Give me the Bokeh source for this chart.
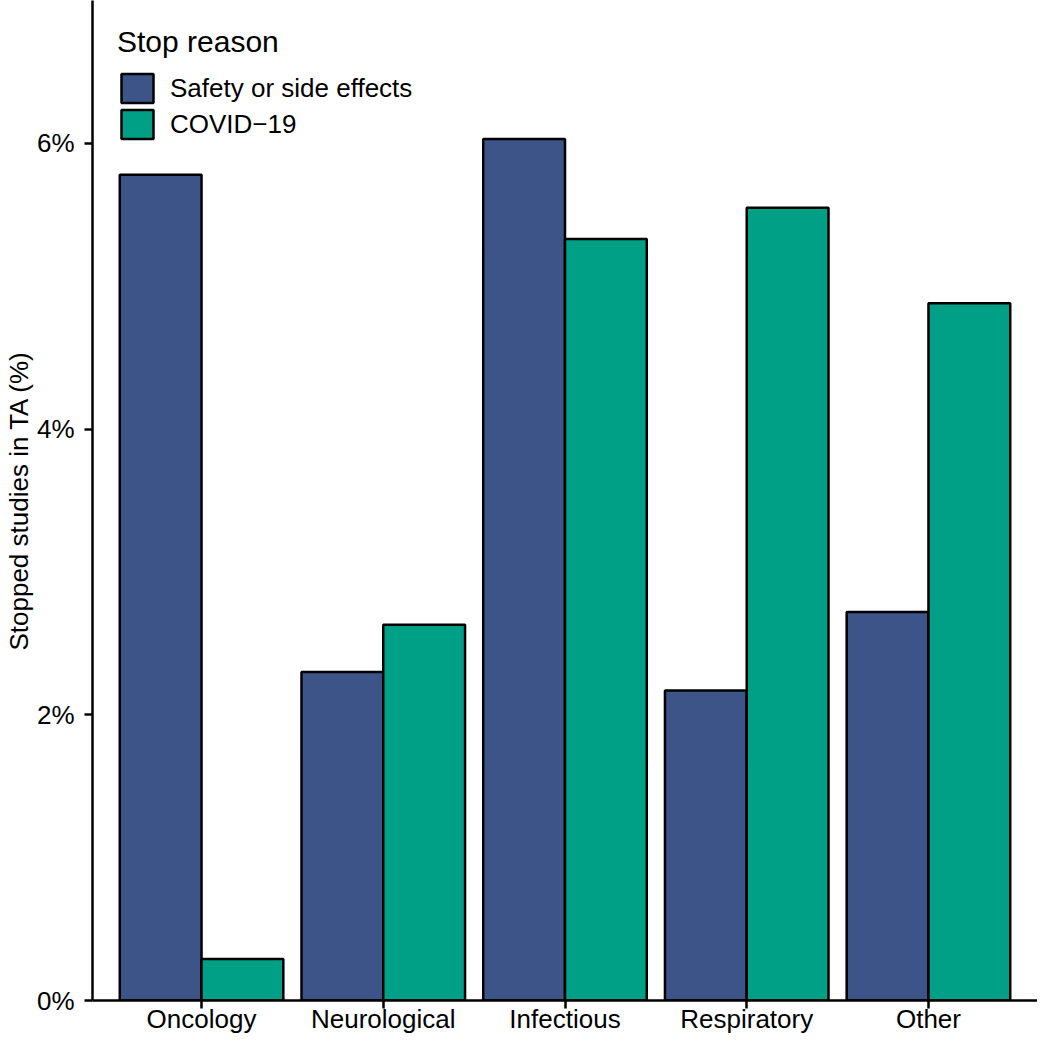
from bokeh.plotting import figure
from bokeh.models import (ColumnDataSource, FactorRange, Range1d, FixedTicker,
                          PrintfTickFormatter, Legend, LegendItem)
from bokeh.transform import dodge
from bokeh.embed import file_html
from bokeh.resources import INLINE

categories = ["Oncology", "Neurological", "Infectious", "Respiratory", "Other"]
safety = [5.78, 2.30, 6.03, 2.17, 2.72]
covid = [0.29, 2.63, 5.33, 5.55, 4.88]
series = ["Safety or side effects", "COVID\u221219"]
colors = ["#3C5488", "#00A087"]
y_ticks = [0, 2, 4, 6]

FONT = "Liberation Sans"

src = ColumnDataSource(dict(cat=categories, safety=safety, covid=covid))

p = figure(
    x_range=FactorRange(*categories, range_padding=0.1, range_padding_units="absolute"),
    y_range=Range1d(0, 7.0),
    width=1037, height=1036,
    output_backend="svg", toolbar_location=None,
    min_border_left=80, min_border_right=0, min_border_top=0, min_border_bottom=0,
)
p.outline_line_color = None
p.xgrid.visible = False
p.ygrid.visible = False
p.background_fill_color = "white"
p.border_fill_color = "white"

r1 = p.vbar(x=dodge("cat", -0.225, range=p.x_range), top="safety", width=0.45,
            source=src, fill_color=colors[0], line_color="black", line_width=2.5)
r2 = p.vbar(x=dodge("cat", 0.225, range=p.x_range), top="covid", width=0.45,
            source=src, fill_color=colors[1], line_color="black", line_width=2.5)

for ax in (p.xaxis[0], p.yaxis[0]):
    ax.axis_line_color = "black"
    ax.axis_line_width = 2.5
    ax.major_tick_line_color = "black"
    ax.major_tick_line_width = 2.5
    ax.major_tick_out = 8
    ax.major_tick_in = 0
    ax.minor_tick_line_color = None
    ax.major_label_text_font = FONT
    ax.major_label_text_font_size = "26px"
    ax.major_label_text_color = "black"

p.xaxis[0].major_label_standoff = -5
p.xaxis[0].major_label_text_line_height = 0.9
p.xaxis[0].axis_label = None
p.xaxis[0].axis_label_standoff = 0
p.yaxis[0].major_label_standoff = 10
p.yaxis[0].ticker = FixedTicker(ticks=y_ticks)
p.yaxis[0].formatter = PrintfTickFormatter(format="%d%%")
p.yaxis[0].axis_label = "Stopped studies in TA (%)"
p.yaxis[0].axis_label_text_font = FONT
p.yaxis[0].axis_label_text_font_size = "26px"
p.yaxis[0].axis_label_text_font_style = "normal"
p.yaxis[0].axis_label_text_color = "black"
p.yaxis[0].axis_label_standoff = 0

legend = Legend(
    items=[LegendItem(label=series[0], renderers=[r1]),
           LegendItem(label=series[1], renderers=[r2])],
    location="top_left",
    title="Stop reason",
    title_text_font=FONT, title_text_font_size="30px", title_text_font_style="normal",
    title_text_color="black",
    title_standoff=11,
    label_text_font=FONT, label_text_font_size="26px", label_text_color="black",
    glyph_width=40, glyph_height=36, label_standoff=13, spacing=0,
    margin=25, padding=0,
    border_line_color=None, background_fill_alpha=0,
)
p.add_layout(legend)

open("out.html", "w").write(file_html(p, INLINE))
